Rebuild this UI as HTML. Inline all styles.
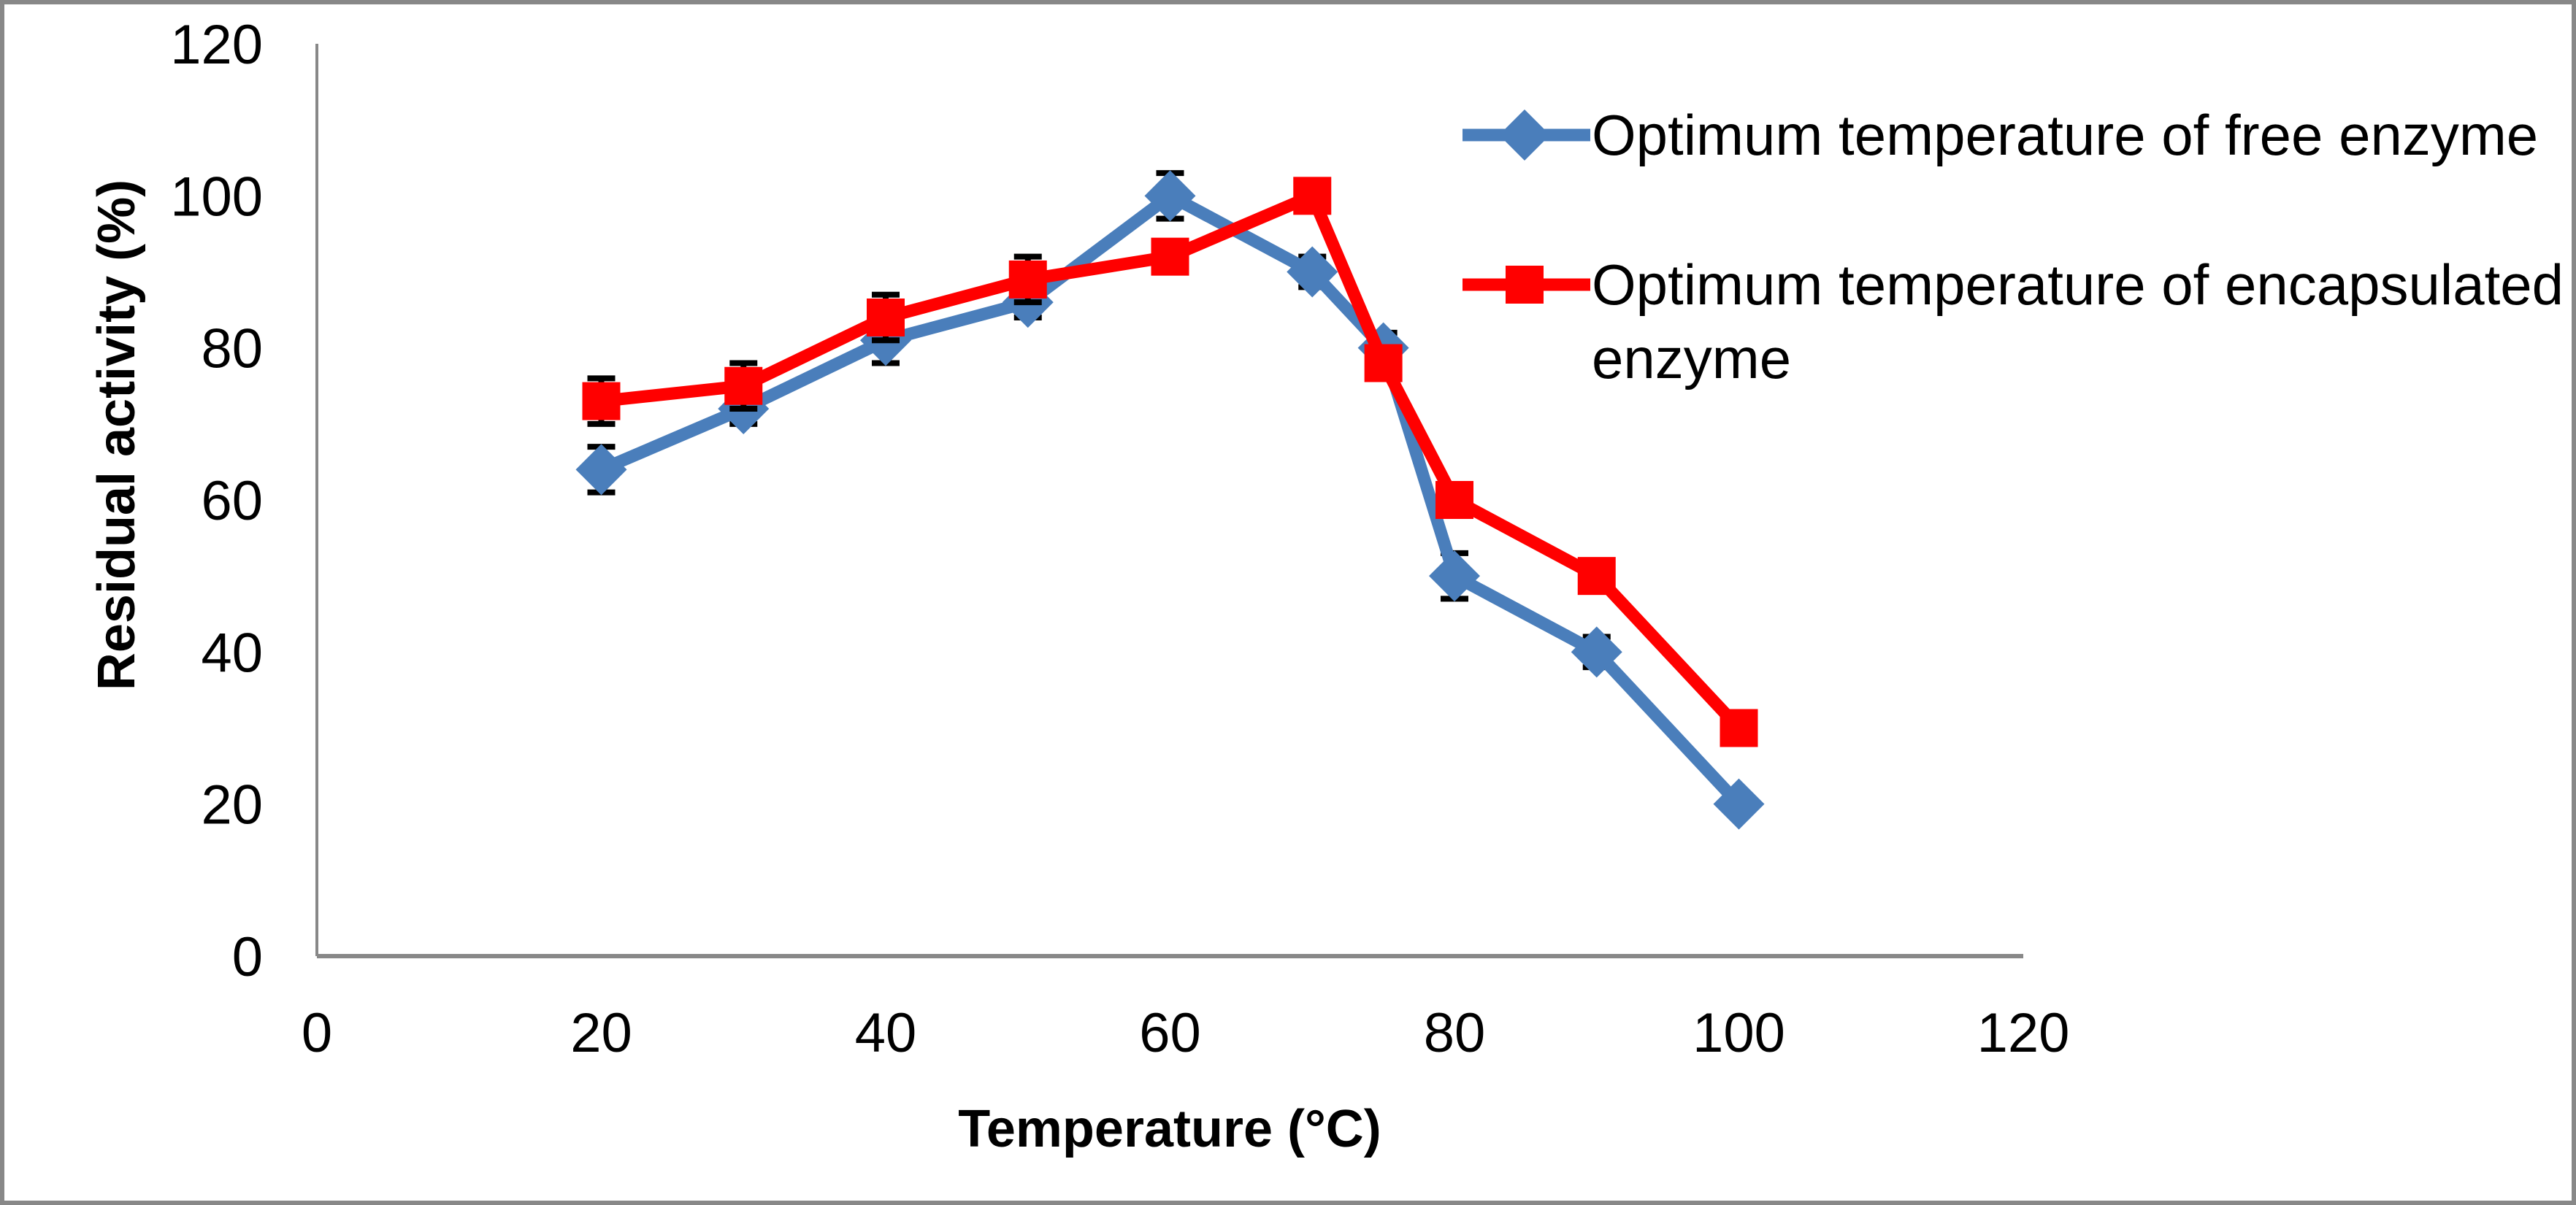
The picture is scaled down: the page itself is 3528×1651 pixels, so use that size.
<!DOCTYPE html>
<html><head><meta charset="utf-8"><style>
html,body{margin:0;padding:0;background:#fff;}
svg{display:block;font-family:"Liberation Sans",sans-serif;}
</style></head><body>
<svg id="chart" width="3528" height="1651" viewBox="0 0 3528 1651">
<rect x="3" y="3" width="3522" height="1645" fill="#fff" stroke="#888" stroke-width="6"/>
<g id="axes"></g>
<g id="series"></g>
<text x="1602" y="1571" font-size="72" font-weight="bold" text-anchor="middle">Temperature (°C)</text>
<text transform="translate(184,596) rotate(-90)" font-size="72" font-weight="bold" text-anchor="middle">Residual activity (%)</text>
<g>
<g>
<line x1="2003" y1="185" x2="2178" y2="185" stroke="#4a7ebb" stroke-width="17"/>
<polygon points="2088,150 2123,185 2088,220 2053,185" fill="#4a7ebb"/>
<text x="2180" y="212" font-size="78">Optimum temperature of free enzyme</text>
</g>
<g>
<line x1="2003" y1="390" x2="2178" y2="390" stroke="#ff0000" stroke-width="17"/>
<rect x="2062" y="364" width="52" height="52" fill="#ff0000"/>
<text x="2180" y="417" font-size="78">Optimum temperature of encapsulated</text>
<text x="2180" y="518" font-size="78">enzyme</text>
</g>
</g>
</svg>
<script>
const temps = [20,30,40,50,60,70,75,80,90,100];
const freeVals = [64,72,81,86,100,90,80,50,40,20];
const freeErr = [3,2,3,2,3,2,2,3,2,1];
const encVals = [73,75,84,89,92,100,78,60,50,30];
const encErr = [3,3,3,3,1,1,1,1,2,1];
const xTicks = [0,20,40,60,80,100,120];
const yTicks = [0,20,40,60,80,100,120];
const NS="http://www.w3.org/2000/svg";
const X0=434,X1=2771,Y0=1310,Y1=60;
function sx(v){return X0+(v-0)/120*(X1-X0);}
function sy(v){return Y0-(v-0)/120*(Y0-Y1);}
function mk(tag,attrs,parent){const e=document.createElementNS(NS,tag);for(const k in attrs)e.setAttribute(k,attrs[k]);parent.appendChild(e);return e;}
const axes=document.getElementById('axes');
const ya=mk('line',{x1:X0,y1:Y1,x2:X0,y2:Y0,stroke:'#888','stroke-width':4},axes);


const xa=mk('line',{x1:X0,y1:Y0,x2:X1,y2:Y0,stroke:'#888','stroke-width':6},axes);


yTicks.forEach(v=>{const t=mk('text',{x:X0-74,y:sy(v)+27,'font-size':76,'text-anchor':'end'},axes);t.textContent=v;

});
xTicks.forEach(v=>{const t=mk('text',{x:sx(v),y:1441,'font-size':76,'text-anchor':'middle'},axes);t.textContent=v;

});
const series=document.getElementById('series');
function drawErr(vals,errs,g){vals.forEach((v,i)=>{const x=sx(temps[i]);const e=errs[i];
const p=mk('path',{d:`M${x},${sy(v+e)}V${sy(v-e)}M${x-19},${sy(v+e)}H${x+19}M${x-19},${sy(v-e)}H${x+19}`,stroke:'#000','stroke-width':8,fill:'none'},g);

});}
function drawLine(vals,color,g,name){const d=vals.map((v,i)=>(i?'L':'M')+sx(temps[i])+','+sy(v)).join('');
const l=mk('path',{d:d,stroke:color,'stroke-width':17,fill:'none','stroke-linejoin':'round'},g);

}
const gF=mk('g',{},series);


const gE=mk('g',{},series);


drawErr(freeVals,freeErr,gF);
drawLine(freeVals,'#4a7ebb',gF,'free-enzyme-line');
freeVals.forEach((v,i)=>{const x=sx(temps[i]),y=sy(v);
const m=mk('polygon',{points:`${x},${y-35} ${x+35},${y} ${x},${y+35} ${x-35},${y}`,fill:'#4a7ebb'},gF);

});
drawErr(encVals,encErr,gE);
drawLine(encVals,'#ff0000',gE,'encapsulated-enzyme-line');
encVals.forEach((v,i)=>{const x=sx(temps[i]),y=sy(v);
const m=mk('rect',{x:x-26,y:y-26,width:52,height:52,fill:'#ff0000'},gE);

});
</script>
</body></html>
